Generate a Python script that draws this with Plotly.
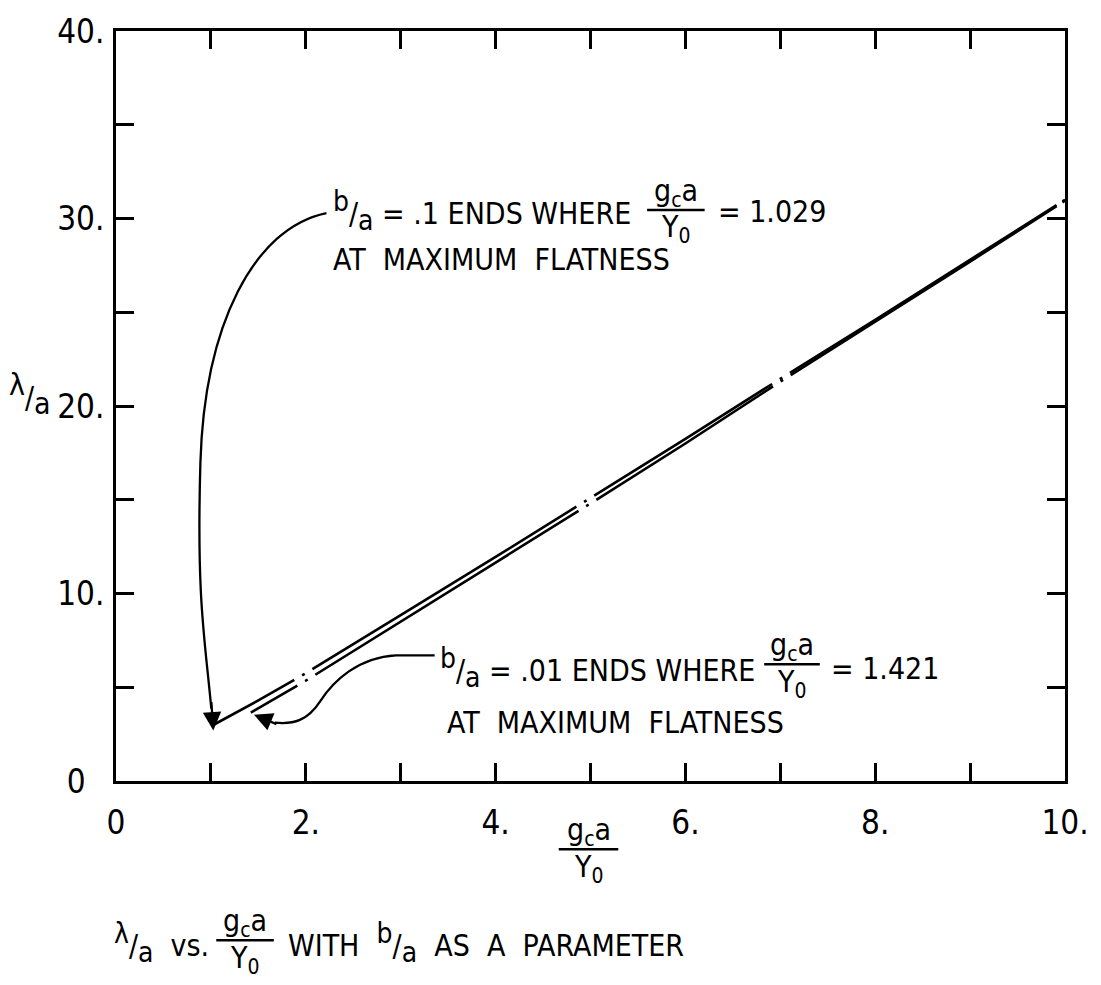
import plotly.graph_objects as go

# lambda/a as a function of g_c a / Y_0 for two values of b/a
gca_b_10 = [1.029, 1.5, 2, 3, 4, 5, 6, 7, 8, 9, 10]
lam_b_10 = [3.0, 4.3, 5.75, 8.85, 11.95, 15.1, 18.25, 21.45, 24.6, 27.8, 31.0]

gca_b_01 = [1.421, 2, 3, 4, 5, 6, 7, 8, 9, 10]
lam_b_01 = [3.65, 5.35, 8.5, 11.65, 14.8, 18.0, 21.3, 24.5, 27.7, 30.95]

x_tickvals = list(range(0, 11))
x_ticktext = ["0", "", "2.", "", "4.", "", "6.", "", "8.", "", "10."]
y_tickvals = list(range(0, 41, 5))
y_ticktext = ["0\u00a0\u00a0", "", "10.", "", "20.", "", "30.", "", "40."]

FONT = "Liberation Sans Narrow, DejaVu Sans Condensed, Liberation Sans, sans-serif"
INK = "black"

W, H = 1101, 985
L, R, T, B = 116, 1072, 23, 781


def px(x):
    return (x - L) / (R - L)


def py(y):
    return (B - y) / (B - T)


def slash(num, den, size=28):
    # slanted ratio such as b/a with raised numerator and lowered denominator
    return (f"<sup><span style='font-size:{size}px'>{num}</span></sup>/"
            f"<sub><span style='font-size:{size}px'>{den}</span></sub>")


# long dash / dot pattern used by the hand-drawn curves (drawn from x=10 downwards)
curve_dash = "3px,7px,315px,9px,3px,9px,210px,9px,3px,9px,310px,9px,3px,9px,400px"

fig = go.Figure()
fig.add_trace(go.Scatter(x=gca_b_10[::-1], y=lam_b_10[::-1], mode="lines",
                         line=dict(color=INK, width=2.6, dash=curve_dash),
                         showlegend=False, hoverinfo="skip"))
fig.add_trace(go.Scatter(x=gca_b_01[::-1], y=lam_b_01[::-1], mode="lines",
                         line=dict(color=INK, width=2.6, dash=curve_dash),
                         showlegend=False, hoverinfo="skip"))

axis_common = dict(
    showline=True, linewidth=3, linecolor=INK, mirror="ticks",
    ticks="inside", ticklen=18, tickwidth=2.5, tickcolor=INK,
    showgrid=False, zeroline=False,
    tickfont=dict(family=FONT, size=33, color=INK),
)

fig.update_xaxes(range=[0, 10], tickmode="array", tickvals=x_tickvals,
                 ticktext=x_ticktext, ticklabelstandoff=10, **axis_common)
fig.update_yaxes(range=[0, 40], tickmode="array", tickvals=y_tickvals,
                 ticktext=y_ticktext, ticklabelstandoff=2, **axis_common)

annotations = []
shapes = []


def text(t, x, y, anchor="left", size=30):
    annotations.append(dict(text=t, x=px(x), y=py(y), xref="paper", yref="paper",
                            xanchor=anchor, yanchor="middle", showarrow=False,
                            font=dict(family=FONT, size=size, color=INK)))


def fraction(cx, bar_y, half, size=30):
    # stacked g_c a over Y_0 with a bar between them
    text("g<sub>c</sub>a", cx, bar_y - 18, anchor="center", size=size)
    text("Y<sub>0</sub>", cx, bar_y + 19, anchor="center", size=size)
    shapes.append(dict(type="line", xref="paper", yref="paper",
                       x0=px(cx - half), x1=px(cx + half), y0=py(bar_y), y1=py(bar_y),
                       line=dict(color=INK, width=2.5)))


def curve(points):
    # points: list of (command, [(x, y), ...]) in pixel space
    parts = []
    for cmd, pts in points:
        parts.append(cmd + " " + " ".join(f"{px(x):.5f},{py(y):.5f}" for x, y in pts))
    shapes.append(dict(type="path", xref="paper", yref="paper", path=" ".join(parts),
                       line=dict(color=INK, width=2.3)))


def arrow_head(tip, tail):
    annotations.append(dict(text="", x=px(tip[0]), y=py(tip[1]), xref="paper", yref="paper",
                            ax=tail[0] - tip[0], ay=tail[1] - tip[1],
                            showarrow=True, arrowhead=2, arrowsize=1.6, arrowwidth=2.3,
                            arrowcolor=INK))


# label for b/a = .1
text(slash("b", "a") + " = .1 ENDS WHERE", 333, 205)
fraction(680, 204, 29)
text("= 1.029", 720, 205)
text("AT  MAXIMUM  FLATNESS", 333, 254)
curve([("M", [(328, 207)]), ("C", [(255, 222), (205, 320), (201, 460)]),
       ("S", [(206, 640), (212, 708)])])
arrow_head((214, 730), (212, 700))

# label for b/a = .01
text(slash("b", "a") + " = .01 ENDS WHERE", 440, 667)
fraction(797, 663, 28)
text("= 1.421", 834, 667)
text("AT  MAXIMUM  FLATNESS", 447, 722)
curve([("M", [(437, 654)]), ("L", [(398, 654)]),
       ("C", [(360, 656), (335, 680), (322, 700)]),
       ("S", [(295, 724), (276, 722)])])
arrow_head((255, 714), (279, 724))

# axis titles
fraction(592, 850, 30)
text(slash("λ", "a", 30), 29, 390, anchor="center", size=30)

# caption
text(slash("λ", "a") + "  vs.", 112, 945)
fraction(246, 942, 29)
text("WITH  " + slash("b", "a") + "  AS  A  PARAMETER", 287, 945)

fig.update_layout(
    width=W, height=H,
    margin=dict(l=L, r=W - R, t=T, b=H - B),
    paper_bgcolor="white", plot_bgcolor="white",
    annotations=annotations, shapes=shapes,
    showlegend=False,
)

fig.write_html("out.html")
